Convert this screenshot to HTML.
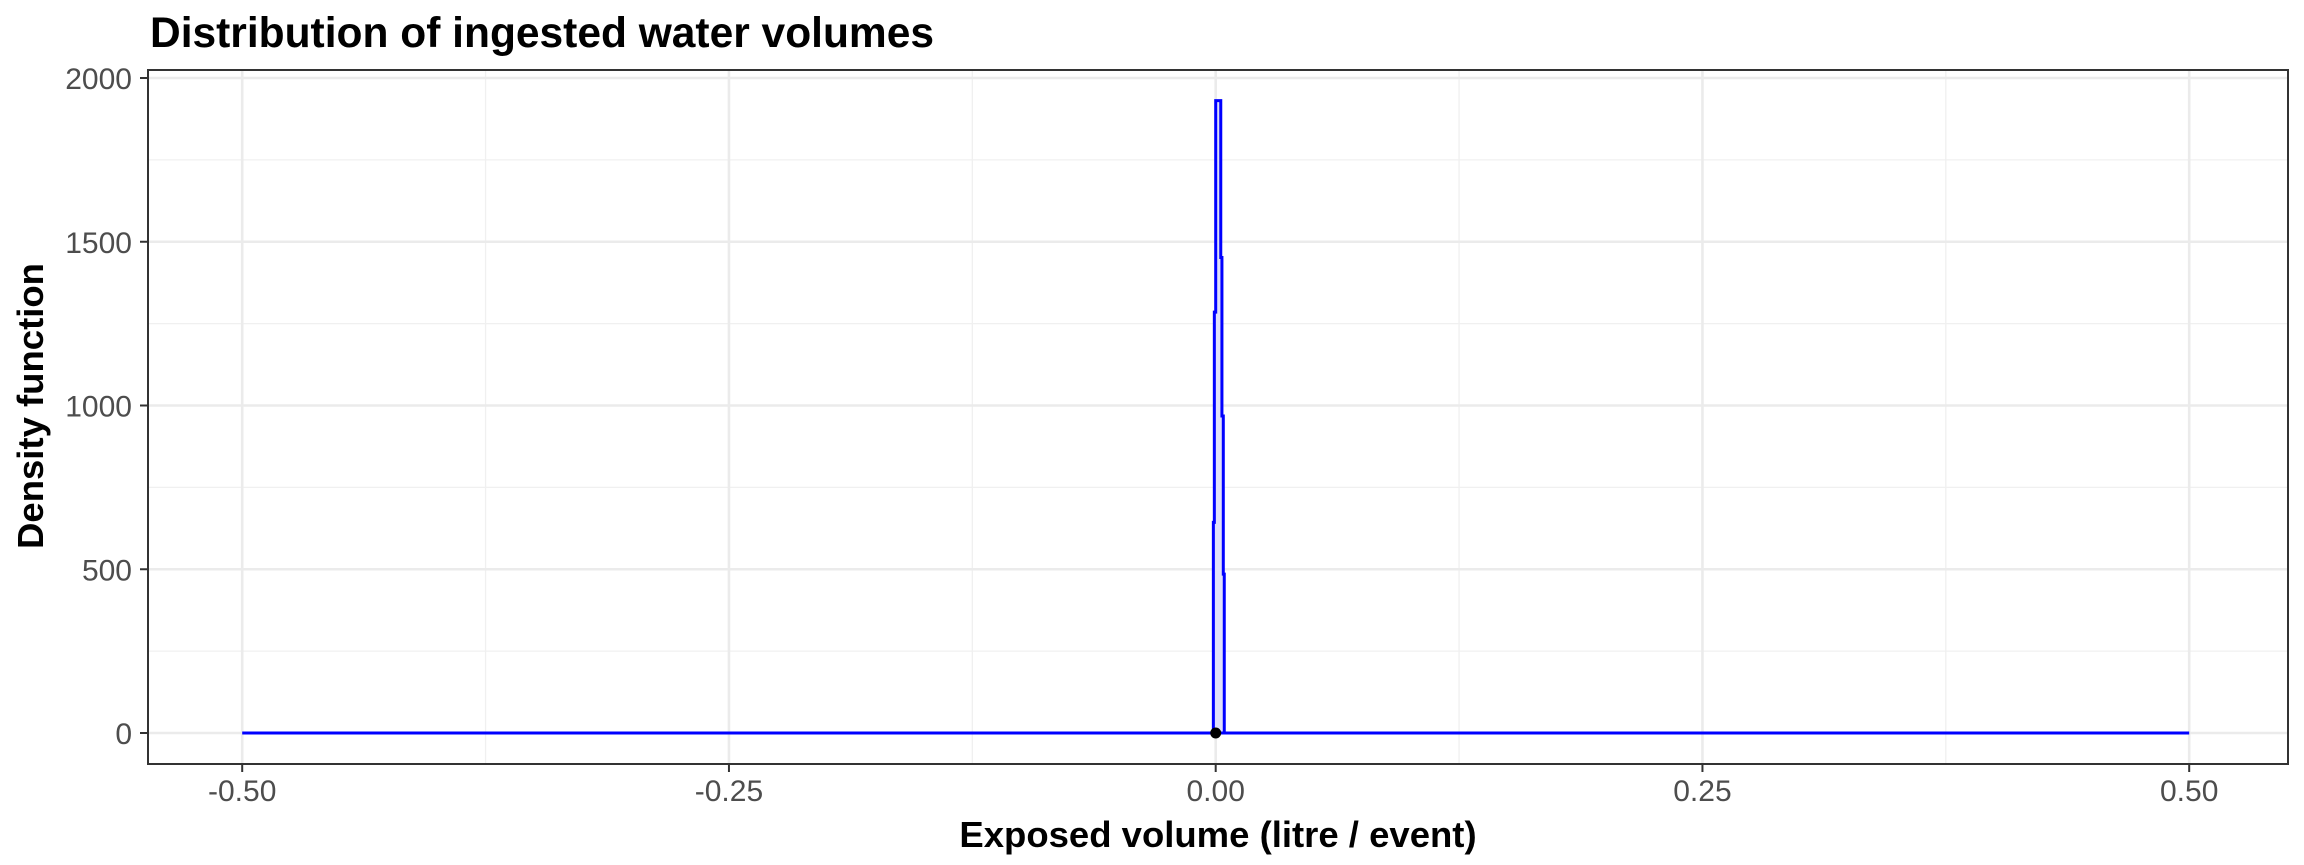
<!DOCTYPE html>
<html><head><meta charset="utf-8"><style>
html,body{margin:0;padding:0;background:#fff;}
svg{display:block;font-family:"Liberation Sans",Arial,sans-serif;}
</style></head><body>
<svg id="chart" width="2304" height="865" viewBox="0 0 2304 865">
<rect width="2304" height="865" fill="#fff"/>
<text x="150" y="47" font-size="42.5" font-weight="bold" fill="#000">Distribution of ingested water volumes</text>
<g id="grid"></g>
<g id="marks"></g>
<rect x="148" y="70" width="2140" height="694" fill="none" stroke="#333" stroke-width="2"/>
<g id="axes"></g>
<text x="1218" y="847" font-size="36.5" font-weight="bold" text-anchor="middle" fill="#000">Exposed volume (litre / event)</text>
<text transform="translate(43,406) rotate(-90)" font-size="36.5" font-weight="bold" text-anchor="middle" fill="#000">Density function</text>
</svg>
<script>
const xTicks = [-0.5, -0.25, 0, 0.25, 0.5];
const xTickLabels = ["-0.50", "-0.25", "0.00", "0.25", "0.50"];
const yTicks = [0, 500, 1000, 1500, 2000];
const yTickLabels = ["0", "500", "1000", "1500", "2000"];
const binEdges = [-0.0012, -0.0007, 0, 0.0026, 0.0032, 0.0039, 0.0044];
const binDensity = [643, 1285, 1931, 1452, 968, 485];
const baseRange = [-0.5, 0.5];
const pointX = [0];
const pointY = [0];

const NS = "http://www.w3.org/2000/svg";
const X0 = 1215.7, XS = 1947, Y0 = 733, YS = 0.3275;
const PL = 148, PR = 2288, PT = 70, PB = 764;
function sx(v){ return X0 + v * XS; }
function sy(v){ return Y0 - v * YS; }
function mk(tag, attrs, parent){
  const e = document.createElementNS(NS, tag);
  for (const k in attrs) e.setAttribute(k, attrs[k]);
  parent.appendChild(e);
  return e;
}
const grid = document.getElementById('grid');
const marks = document.getElementById('marks');
const axes = document.getElementById('axes');

for (let i = 0; i < xTicks.length - 1; i++) {
  const m = (xTicks[i] + xTicks[i+1]) / 2;
  const l = mk('line', {x1: sx(m), x2: sx(m), y1: PT, y2: PB, stroke: '#f0f0f0', 'stroke-width': 1.3}, grid);
  
  
}
for (let i = 0; i < yTicks.length - 1; i++) {
  const m = (yTicks[i] + yTicks[i+1]) / 2;
  const l = mk('line', {x1: PL, x2: PR, y1: sy(m), y2: sy(m), stroke: '#f0f0f0', 'stroke-width': 1.3}, grid);
  
  
}
xTicks.forEach((t, i) => {
  const l = mk('line', {x1: sx(t), x2: sx(t), y1: PT, y2: PB, stroke: '#ebebeb', 'stroke-width': 2.6}, grid);
  
  
  const tk = mk('line', {x1: sx(t), x2: sx(t), y1: PB, y2: PB + 8, stroke: '#333', 'stroke-width': 2}, axes);
  
  
  const tx = mk('text', {x: sx(t), y: 801, 'font-size': 30, 'text-anchor': 'middle', fill: '#4d4d4d'}, axes);
  tx.textContent = xTickLabels[i];
  
  
});
yTicks.forEach((t, i) => {
  const l = mk('line', {x1: PL, x2: PR, y1: sy(t), y2: sy(t), stroke: '#ebebeb', 'stroke-width': 2.6}, grid);
  
  
  const tk = mk('line', {x1: PL - 8, x2: PL, y1: sy(t), y2: sy(t), stroke: '#333', 'stroke-width': 2}, axes);
  
  
  const tx = mk('text', {x: 132, y: sy(t) + 11, 'font-size': 30, 'text-anchor': 'end', fill: '#4d4d4d'}, axes);
  tx.textContent = yTickLabels[i];
  
  
});
const bl = mk('line', {x1: sx(baseRange[0]), x2: sx(baseRange[1]), y1: sy(0), y2: sy(0), stroke: '#0000ff', 'stroke-width': 3}, marks);


let d = 'M' + sx(binEdges[0]) + ',' + sy(0);
for (let i = 0; i < binDensity.length; i++) {
  d += ' L' + sx(binEdges[i]) + ',' + sy(binDensity[i]) + ' L' + sx(binEdges[i+1]) + ',' + sy(binDensity[i]);
}
d += ' L' + sx(binEdges[binEdges.length-1]) + ',' + sy(0) + ' Z';
const area = mk('path', {d: d, fill: '#e0e0fa', stroke: '#0000ff', 'stroke-width': 3, 'stroke-linejoin': 'miter'}, marks);


pointX.forEach((v, i) => {
  const c = mk('circle', {cx: sx(v), cy: sy(pointY[i]), r: 5.5, fill: '#000'}, marks);
  
  
});
</script>
</body></html>
